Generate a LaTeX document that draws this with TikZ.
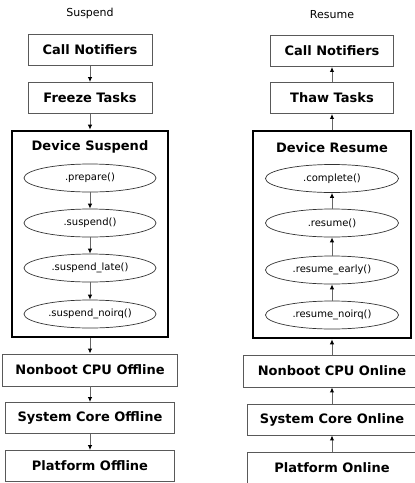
\documentclass[tikz,border=0pt]{standalone}
\usepackage{fontspec}
\setmainfont{DejaVu Sans}
\usepackage{tikz}
\usetikzlibrary{arrows.meta,shapes.geometric}

\tikzset{
  stepbox/.style={draw=black!65, line width=0.9pt, minimum height=31pt,
    inner sep=0pt, font=\bfseries\fontsize{13}{15}\selectfont},
  groupbox/.style={draw=black, line width=2.6pt, inner sep=0pt},
  callback/.style={ellipse, draw=black!80, line width=0.7pt, minimum width=132pt,
    minimum height=28pt, inner sep=0pt, font=\fontsize{10}{12}\selectfont},
  flow/.style={draw=black!60, line width=1pt,
    -{Latex[length=5pt,width=4.5pt,black]}},
  heading/.style={font=\fontsize{11}{13}\selectfont},
  grouptitle/.style={font=\bfseries\fontsize{13}{15}\selectfont}
}

\begin{document}
\begin{tikzpicture}[x=1pt,y=-1pt]

 \useasboundingbox (0,0) rectangle (415,483); % page size

% Suspend column
 \node[heading] (sus) at (90,13) {Suspend};
 \node[stepbox, minimum width=124pt] (sNotify) at (90,50) {Call Notifiers};
 \node[stepbox, minimum width=124pt] (sFreeze) at (90,98) {Freeze Tasks};
 \node[groupbox, minimum width=156pt, minimum height=206pt] (sDev) at (90,234) {};
 \node[grouptitle] (sDevTitle) at (90,147) {Device Suspend};
 \node[callback] (sPrep) at (90,178) {.prepare()};
 \node[callback] (sSusp) at (90,223) {.suspend()};
 \node[callback] (sLate) at (90,268) {.suspend\_late()};
 \node[callback] (sNoirq) at (90,314) {.suspend\_noirq()};
 \node[stepbox, minimum width=175pt, minimum height=32pt] (sCPU) at (90,370) {Nonboot CPU Offline};
 \node[stepbox, minimum width=169pt] (sCore) at (90,418) {System Core Offline};
 \node[stepbox, minimum width=169pt] (sPlat) at (90,466) {Platform Offline};

 \draw[flow] (sNotify) -- (sFreeze);
 \draw[flow] (sFreeze) -- (sDev);
 \draw[flow] (sPrep) -- (sSusp);
 \draw[flow] (sSusp) -- (sLate);
 \draw[flow] (sLate) -- (sNoirq);
 \draw[flow] (sDev) -- (sCPU);
 \draw[flow] (sCPU) -- (sCore);
 \draw[flow] (sCore) -- (sPlat);

% Resume column
 \node[heading] (res) at (332,15) {Resume};
 \node[stepbox, minimum width=123pt] (rNotify) at (332,51) {Call Notifiers};
 \node[stepbox, minimum width=123pt] (rThaw) at (332,98) {Thaw Tasks};
 \node[groupbox, minimum width=158pt, minimum height=207pt] (rDev) at (332,234.5) {};
 \node[grouptitle] (rDevTitle) at (332,148) {Device Resume};
 \node[callback, minimum width=133pt] (rComp) at (332,178.5) {.complete()};
 \node[callback, minimum width=133pt] (rRes) at (332,223) {.resume()};
 \node[callback, minimum width=133pt] (rEarly) at (332,270) {.resume\_early()};
 \node[callback, minimum width=133pt] (rNoirq) at (332,315) {.resume\_noirq()};
 \node[stepbox, minimum width=178pt, minimum height=32pt] (rCPU) at (332,371) {Nonboot CPU Online};
 \node[stepbox, minimum width=170pt] (rCore) at (332,419.5) {System Core Online};
 \node[stepbox, minimum width=170pt] (rPlat) at (332,467.5) {Platform Online};

 \draw[flow] (rThaw) -- (rNotify);
 \draw[flow] (rDev) -- (rThaw);
 \draw[flow] (rRes) -- (rComp);
 \draw[flow] (rEarly) -- (rRes);
 \draw[flow] (rNoirq) -- (rEarly);
 \draw[flow] (rCPU) -- (rDev);
 \draw[flow] (rCore) -- (rCPU);
 \draw[flow] (rPlat) -- (rCore);

\end{tikzpicture}
\end{document}
